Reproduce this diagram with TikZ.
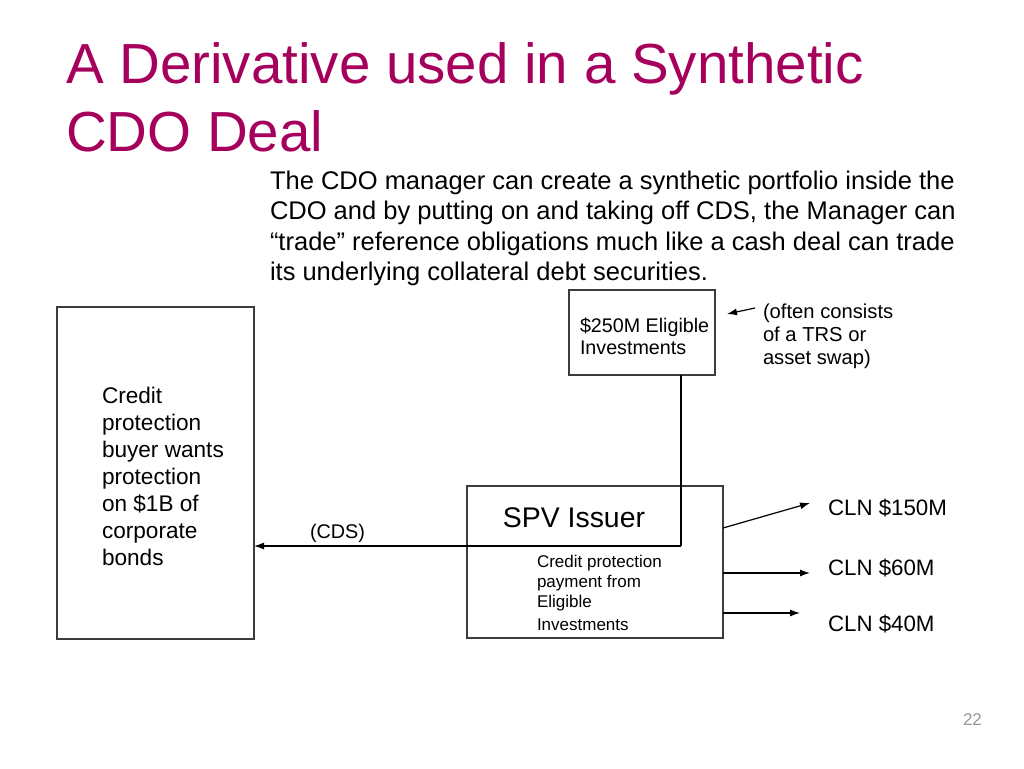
\documentclass[tikz,border=0pt]{standalone}
\usepackage{fontspec}
\setmainfont{Liberation Sans}
\usetikzlibrary{arrows.meta}
\definecolor{titlemag}{RGB}{166,0,93}
\definecolor{pgnum}{RGB}{150,150,150}
\definecolor{boxline}{RGB}{60,60,60}
\begin{document}
\begin{tikzpicture}[x=1pt,y=-1pt,
  txt/.style={inner sep=0pt,outer sep=0pt,anchor=base west,align=left},
  boxnode/.style={draw=boxline,line width=1.1pt,inner sep=0pt,outer sep=0pt},
  conn/.style={line width=1.2pt,-{Latex[length=10pt,width=7pt]}},
  plain/.style={line width=1.2pt}]
\useasboundingbox[fill=white] (0,0) rectangle (1024,768);
% title (anchored at last baseline)
\node[txt,text=titlemag,font=\fontsize{56.5}{68}\selectfont] (title) at (66,151) {A Derivative used in a Synthetic\\CDO Deal};
% body
\node[txt,font=\fontsize{25.5}{30.5}\selectfont] (body) at (270,280.5) {The CDO manager can create a synthetic portfolio inside the\\CDO and by putting on and taking off CDS, the Manager can\\“trade” reference obligations much like a cash deal can trade\\its underlying collateral debt securities.};
% boxes
\node[boxnode,minimum width=197pt,minimum height=332pt] (buyer) at (155.5,473) {};
\node[boxnode,minimum width=146pt,minimum height=85pt] (elig) at (642,332.5) {};
\node[boxnode,minimum width=256pt,minimum height=152pt] (spv) at (595,562) {};
% texts in boxes
\node[txt,font=\fontsize{22.6}{27}\selectfont] (buyertxt) at (102,565) {Credit\\protection\\buyer wants\\protection\\on \$1B of\\corporate\\bonds};
\node[txt,font=\fontsize{19.7}{22}\selectfont] (eligtxt) at (580,354) {\$250M Eligible\\Investments};
\node[inner sep=0pt,anchor=base,font=\fontsize{28.4}{32}\selectfont] (spvtxt) at (574,527) {SPV Issuer};
\node[txt,font=\fontsize{17}{20}\selectfont] (paytxt) at (537,630) {Credit protection\\payment from\\Eligible\\[3pt]Investments};
\node[txt,font=\fontsize{20.2}{23}\selectfont] (note) at (763,364) {(often consists\\of a TRS or\\asset swap)};
\node[txt,font=\fontsize{19.8}{24}\selectfont] (cds) at (310,538) {(CDS)};
\node[txt,font=\fontsize{22.3}{26}\selectfont] (c1) at (828,515) {CLN \$150M};
\node[txt,font=\fontsize{22.3}{26}\selectfont] (c2) at (828,575) {CLN \$60M};
\node[txt,font=\fontsize{22.3}{26}\selectfont] (c3) at (828,631) {CLN \$40M};
\node[txt,text=pgnum,font=\fontsize{17}{20}\selectfont] (pg) at (963,725) {22};
% connectors
\coordinate (j) at (681,546);
\draw[plain] (elig.south -| j) -- (j);
\draw[conn] (j) -- (j -| buyer.east);
\coordinate (e1) at (810,503);
\coordinate (e2) at (810,573);
\coordinate (e3) at (800,613);
\draw[conn] (spv.east |- 0,528) -- (e1);
\draw[conn] (spv.east |- e2) -- (e2);
\draw[conn] (spv.east |- e3) -- (e3);
\coordinate (n0) at (755,308);
\coordinate (n1) at (727,314);
\draw[conn] (n0) -- (n1);
\end{tikzpicture}
\end{document}
